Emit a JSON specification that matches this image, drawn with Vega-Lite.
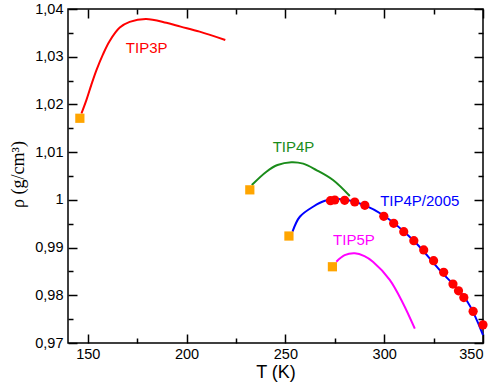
{
  "$schema": "https://vega.github.io/schema/vega-lite/v6.json",
  "width": 415,
  "height": 334,
  "autosize": {"type": "none"},
  "padding": {"left": 68, "top": 9, "right": 15, "bottom": 39},
  "background": "white",
  "config": {
    "view": {"stroke": "black", "strokeWidth": 1.5},
    "axis": {
      "grid": false,
      "domain": false,
      "tickColor": "black",
      "tickWidth": 1.5,
      "labelFont": "Liberation Sans",
      "labelFontSize": 14.5,
      "labelColor": "black",
      "titleColor": "black",
      "titleFontWeight": "normal"
    }
  },
  "datasets": {
    "curves": [
      {"model": "TIP3P", "T": 146.8, "rho": 1.0181},
      {"model": "TIP3P", "T": 149.3, "rho": 1.0209},
      {"model": "TIP3P", "T": 151.8, "rho": 1.0241},
      {"model": "TIP3P", "T": 154.4, "rho": 1.0272},
      {"model": "TIP3P", "T": 157.7, "rho": 1.0305},
      {"model": "TIP3P", "T": 161.1, "rho": 1.0333},
      {"model": "TIP3P", "T": 166.2, "rho": 1.0361},
      {"model": "TIP3P", "T": 171.2, "rho": 1.0373},
      {"model": "TIP3P", "T": 179.5, "rho": 1.0379},
      {"model": "TIP3P", "T": 189.8, "rho": 1.0371},
      {"model": "TIP3P", "T": 197.0, "rho": 1.0363},
      {"model": "TIP3P", "T": 206.6, "rho": 1.03525},
      {"model": "TIP3P", "T": 219.6, "rho": 1.0335},
      {"model": "TIP4P", "T": 233.0, "rho": 1.0031},
      {"model": "TIP4P", "T": 240.4, "rho": 1.0059},
      {"model": "TIP4P", "T": 246.0, "rho": 1.0073},
      {"model": "TIP4P", "T": 253.0, "rho": 1.0079},
      {"model": "TIP4P", "T": 259.0, "rho": 1.0076},
      {"model": "TIP4P", "T": 265.7, "rho": 1.00625},
      {"model": "TIP4P", "T": 274.1, "rho": 1.00416},
      {"model": "TIP4P", "T": 282.6, "rho": 1.0008},
      {"model": "TIP4P/2005", "T": 253.6, "rho": 0.99333},
      {"model": "TIP4P/2005", "T": 257.3, "rho": 0.99646},
      {"model": "TIP4P/2005", "T": 264.0, "rho": 0.99856},
      {"model": "TIP4P/2005", "T": 270.0, "rho": 0.9998},
      {"model": "TIP4P/2005", "T": 275.8, "rho": 1.0002},
      {"model": "TIP4P/2005", "T": 282.0, "rho": 0.9999},
      {"model": "TIP4P/2005", "T": 290.0, "rho": 0.9989},
      {"model": "TIP4P/2005", "T": 299.4, "rho": 0.99682},
      {"model": "TIP4P/2005", "T": 314.6, "rho": 0.99158},
      {"model": "TIP4P/2005", "T": 328.1, "rho": 0.98529},
      {"model": "TIP4P/2005", "T": 341.6, "rho": 0.97901},
      {"model": "TIP4P/2005", "T": 350.0, "rho": 0.97167},
      {"model": "TIP5P", "T": 275.8, "rho": 0.98703},
      {"model": "TIP5P", "T": 280.0, "rho": 0.9884},
      {"model": "TIP5P", "T": 285.1, "rho": 0.98879},
      {"model": "TIP5P", "T": 290.0, "rho": 0.9882},
      {"model": "TIP5P", "T": 294.3, "rho": 0.98703},
      {"model": "TIP5P", "T": 302.8, "rho": 0.98323},
      {"model": "TIP5P", "T": 309.5, "rho": 0.97834},
      {"model": "TIP5P", "T": 315.5, "rho": 0.973}
    ],
    "squares": [
      {"model": "TIP3P", "T": 146.0, "rho": 1.0171},
      {"model": "TIP4P", "T": 232.0, "rho": 1.0021},
      {"model": "TIP4P/2005", "T": 251.8, "rho": 0.99242},
      {"model": "TIP5P", "T": 273.8, "rho": 0.98598}
    ],
    "exp": [
      {"T": 272.8, "rho": 0.99982},
      {"T": 275.0, "rho": 0.99997},
      {"T": 280.0, "rho": 0.9999},
      {"T": 285.1, "rho": 0.99955},
      {"T": 290.2, "rho": 0.99885},
      {"T": 299.8, "rho": 0.99655},
      {"T": 304.8, "rho": 0.99508},
      {"T": 309.9, "rho": 0.99333},
      {"T": 315.0, "rho": 0.99144},
      {"T": 320.0, "rho": 0.9895},
      {"T": 325.0, "rho": 0.98725},
      {"T": 330.1, "rho": 0.98482},
      {"T": 334.8, "rho": 0.98236},
      {"T": 337.6, "rho": 0.98093},
      {"T": 340.3, "rho": 0.97953},
      {"T": 345.0, "rho": 0.97663},
      {"T": 350.0, "rho": 0.9738}
    ],
    "labels": [
      {"model": "TIP3P", "T": 179.8, "rho": 1.0318},
      {"model": "TIP4P", "T": 254.1, "rho": 1.0111},
      {"model": "TIP4P/2005", "T": 318.0, "rho": 0.9998},
      {"model": "TIP5P", "T": 284.7, "rho": 0.9916}
    ]
  },
  "resolve": {"axis": {"x": "independent", "y": "independent"}},
  "layer": [
    {
      "data": {"name": "curves"},
      "transform": [{"filter": "datum.model == 'TIP3P' || datum.model == 'TIP4P'"}],
      "mark": {"type": "line", "strokeWidth": 2, "interpolate": "catmull-rom"},
      "encoding": {
        "x": {
          "field": "T", "type": "quantitative",
          "scale": {"domain": [140, 350], "nice": false, "zero": false},
          "axis": {
            "orient": "bottom",
            "values": [150, 200, 250, 300, 350],
            "ticks": false,
            "labelPadding": 4,
            "title": "T (K)",
            "titleFont": "Liberation Sans",
            "titleFontSize": 18,
            "titlePadding": 3
          }
        },
        "y": {
          "field": "rho", "type": "quantitative",
          "scale": {"domain": [0.97, 1.04], "nice": false, "zero": false},
          "axis": {
            "orient": "left",
            "values": [0.97, 0.98, 0.99, 1.0, 1.01, 1.02, 1.03, 1.04],
            "ticks": false,
            "labelPadding": 5,
            "labelExpr": "abs(datum.value - 1) < 0.0001 ? '1' : replace(format(datum.value, '.2f'), '.', ',')",
            "title": "ρ (g/cm³)",
            "titleFont": "Liberation Serif",
            "titleFontSize": 18,
            "titleX": -45,
            "titleY": 165,
            "titleBaseline": "alphabetic"
          }
        },
        "color": {
          "field": "model", "type": "nominal",
          "scale": {
            "domain": ["TIP3P", "TIP4P", "TIP4P/2005", "TIP5P"],
            "range": ["#ff0000", "#1a8c1a", "#0000ff", "#ff00ff"]
          },
          "legend": null
        }
      }
    },
    {
      "data": {"name": "curves"},
      "transform": [{"filter": "datum.model == 'TIP4P/2005' || datum.model == 'TIP5P'"}],
      "mark": {"type": "line", "strokeWidth": 2, "interpolate": "catmull-rom"},
      "encoding": {
        "x": {
          "field": "T", "type": "quantitative",
          "scale": {"domain": [140, 350], "nice": false, "zero": false},
          "axis": {"orient": "bottom", "offset": -334, "values": [175, 225, 275, 325], "tickSize": 5, "labels": false, "title": null}
        },
        "y": {
          "field": "rho", "type": "quantitative",
          "scale": {"domain": [0.97, 1.04], "nice": false, "zero": false},
          "axis": {"orient": "left", "offset": -415, "values": [0.975, 0.985, 0.995, 1.005, 1.015, 1.025, 1.035], "tickSize": 5, "labels": false, "title": null}
        },
        "color": {
          "field": "model", "type": "nominal",
          "scale": {
            "domain": ["TIP3P", "TIP4P", "TIP4P/2005", "TIP5P"],
            "range": ["#ff0000", "#1a8c1a", "#0000ff", "#ff00ff"]
          },
          "legend": null
        }
      }
    },
    {
      "data": {"name": "squares"},
      "mark": {"type": "point", "shape": "square", "filled": true, "size": 85, "color": "#ffa500", "opacity": 1},
      "encoding": {
        "x": {
          "field": "T", "type": "quantitative",
          "scale": {"domain": [140, 350], "nice": false, "zero": false},
          "axis": {"orient": "top", "offset": -334, "values": [150, 200, 250, 300, 350], "tickSize": 9, "labels": false, "title": null}
        },
        "y": {
          "field": "rho", "type": "quantitative",
          "scale": {"domain": [0.97, 1.04], "nice": false, "zero": false},
          "axis": {"orient": "right", "offset": -415, "values": [0.97, 0.98, 0.99, 1.0, 1.01, 1.02, 1.03, 1.04], "tickSize": 9, "labels": false, "title": null}
        }
      }
    },
    {
      "data": {"name": "exp"},
      "mark": {"type": "circle", "size": 85, "color": "#ff0000", "opacity": 1},
      "encoding": {
        "x": {
          "field": "T", "type": "quantitative",
          "scale": {"domain": [140, 350], "nice": false, "zero": false},
          "axis": {"orient": "top", "offset": -334, "values": [175, 225, 275, 325], "tickSize": 5, "labels": false, "title": null}
        },
        "y": {
          "field": "rho", "type": "quantitative",
          "scale": {"domain": [0.97, 1.04], "nice": false, "zero": false},
          "axis": {"orient": "right", "offset": -415, "values": [0.975, 0.985, 0.995, 1.005, 1.015, 1.025, 1.035], "tickSize": 5, "labels": false, "title": null}
        }
      }
    },
    {
      "data": {"name": "labels"},
      "mark": {"type": "text", "font": "Liberation Sans", "fontSize": 15, "align": "center", "baseline": "middle"},
      "encoding": {
        "x": {
          "field": "T", "type": "quantitative",
          "scale": {"domain": [140, 350], "nice": false, "zero": false},
          "axis": {"orient": "bottom", "offset": -334, "values": [150, 200, 250, 300, 350], "tickSize": 9, "labels": false, "title": null}
        },
        "y": {
          "field": "rho", "type": "quantitative",
          "scale": {"domain": [0.97, 1.04], "nice": false, "zero": false},
          "axis": {"orient": "left", "offset": -415, "values": [0.97, 0.98, 0.99, 1.0, 1.01, 1.02, 1.03, 1.04], "tickSize": 9, "labels": false, "title": null}
        },
        "text": {"field": "model", "type": "nominal"},
        "color": {
          "field": "model", "type": "nominal",
          "scale": {
            "domain": ["TIP3P", "TIP4P", "TIP4P/2005", "TIP5P"],
            "range": ["#ff0000", "#1a8c1a", "#0000ff", "#ff00ff"]
          },
          "legend": null
        }
      }
    }
  ]
}
